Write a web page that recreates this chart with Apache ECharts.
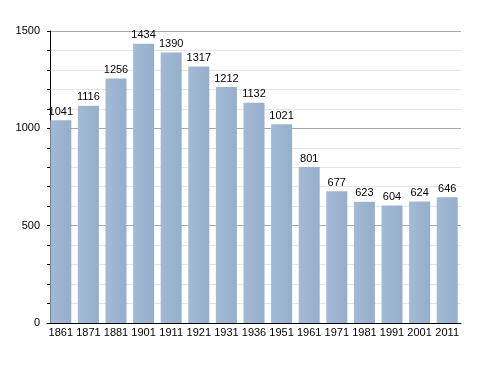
<!DOCTYPE html>
<html><head><meta charset="utf-8">
<script src="https://cdn.jsdelivr.net/npm/echarts@6/dist/echarts.min.js"></script>
<style>html,body{margin:0;padding:0;background:#fff}#c{width:488px;height:373px}</style>
</head><body><div id="c"></div>
<script>
const years = ['1861','1871','1881','1901','1911','1921','1931','1936','1951','1961','1971','1981','1991','2001','2011'];
const population = [1041,1116,1256,1434,1390,1317,1212,1132,1021,801,677,623,604,624,646];
const yTicks = [0,500,1000,1500];

const chart = echarts.init(document.getElementById('c'));
chart.setOption({
  animation:false,
  backgroundColor:'#fff',
  grid:{left:47,right:27,top:31,bottom:50},
  xAxis:{
    type:'category', data:years,
    axisLine:{show:true,lineStyle:{color:'#000',width:1}},
    axisTick:{show:false},
    axisLabel:{interval:0,color:'#000',fontFamily:'Liberation Sans, Arial',fontSize:11,margin:4}
  },
  yAxis:{
    type:'value', min:0, max:1500, interval:100, offset:-3,
    axisLine:{show:true,lineStyle:{color:'#000',width:1}},
    axisTick:{show:true,inside:false,length:3,lineStyle:{color:'#000'}},
    axisLabel:{color:'#000',fontFamily:'Liberation Sans, Arial',fontSize:11,margin:10,
      formatter:v=>yTicks.includes(v)?String(v):''},
    splitLine:{show:true,lineStyle:{color:['#a8a8a8','#e4e4e4','#e4e4e4','#e4e4e4','#e4e4e4'],width:1}}
  },
  series:[{
    type:'bar', data:population, barWidth:21,
    itemStyle:{color:new echarts.graphic.LinearGradient(0,0,1,0,[{offset:0,color:'#a3bad4'},{offset:1,color:'#95aecb'}])},
    label:{show:true,position:'top',distance:3,color:'#000',fontFamily:'Liberation Sans, Arial',fontSize:11}
  }]
});
</script></body></html>
